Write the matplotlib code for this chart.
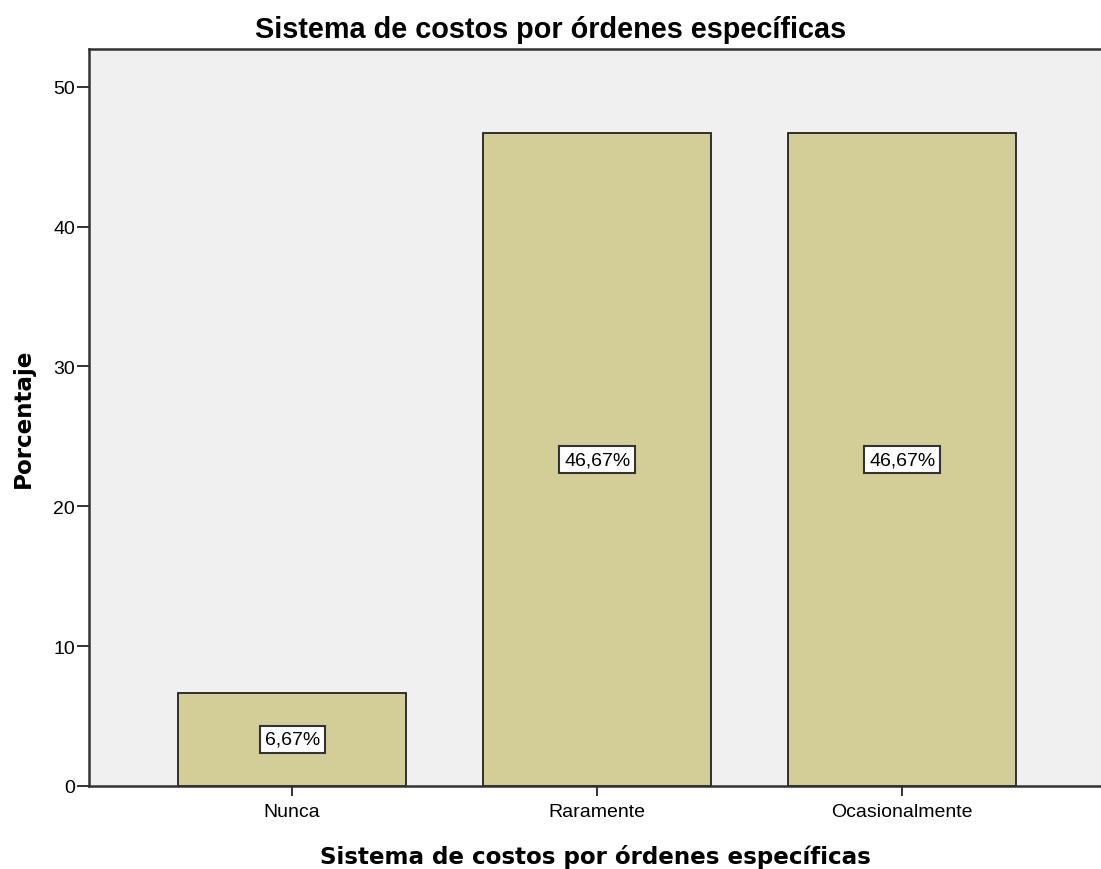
import matplotlib
matplotlib.use("Agg")
import matplotlib.pyplot as plt

categories = ["Nunca", "Raramente", "Ocasionalmente"]
percentages = [6.67, 46.67, 46.67]
value_labels = ["6,67%", "46,67%", "46,67%"]
title = "Sistema de costos por órdenes específicas"
xlabel = "Sistema de costos por órdenes específicas"
ylabel = "Porcentaje"
yticks = [0, 10, 20, 30, 40, 50]

ARIAL = ["Liberation Sans", "DejaVu Sans"]

fig = plt.figure(figsize=(11.01, 8.70), dpi=100)
ax = fig.add_axes([89/1101, 83/870, 1 - 89/1101, (787-50)/870])
ax.set_facecolor("#F0F0F0")

x = list(range(len(categories)))
ax.bar(x, percentages, width=0.748, color="#D3CE97", edgecolor="#222222", linewidth=1.3, zorder=2)

for xi, v, lab in zip(x, percentages, value_labels):
    ax.text(xi, v / 2, lab, ha="center", va="center", fontsize=14,
            family=ARIAL, color="black", zorder=3,
            bbox=dict(boxstyle="square,pad=0.25", facecolor="white", edgecolor="#333333", linewidth=1.5))

ax.set_xlim(-0.666, 2.652)
ax.set_ylim(0, 52.7)
ax.set_xticks(x)
ax.set_xticklabels(categories, fontsize=14, family=ARIAL)
ax.set_yticks(yticks)
ax.set_yticklabels([str(t) for t in yticks], fontsize=14, family=ARIAL)
ax.tick_params(axis="y", length=9, width=1.3, color="#222222", pad=1)
ax.tick_params(axis="x", length=7.5, width=1.3, color="#222222", pad=5)

for side in ["left", "bottom", "top"]:
    ax.spines[side].set_color("#333333")
    ax.spines[side].set_linewidth(1.8)
ax.spines["right"].set_visible(False)

fig.suptitle(title, x=0.5, y=1 - 30/870, va="center", fontsize=20.8, fontweight="bold", family=ARIAL)
ax.set_xlabel(xlabel, fontsize=16.6, fontweight="bold", labelpad=17, family=["DejaVu Sans"])
ax.set_ylabel(ylabel, fontsize=16.6, fontweight="bold", labelpad=13.5, family=["DejaVu Sans"])

fig.savefig("out.png", dpi=100)
